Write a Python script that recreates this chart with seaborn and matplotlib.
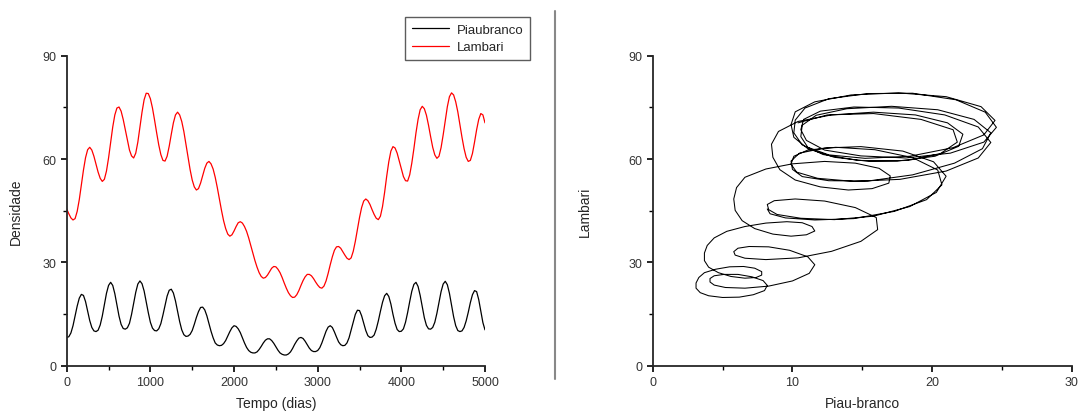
import numpy as np
import pandas as pd
import matplotlib
matplotlib.use("Agg")
import matplotlib.pyplot as plt
from matplotlib.lines import Line2D
from matplotlib.ticker import MultipleLocator
import seaborn as sns

tempo = np.arange(0, 5001, 25)

piaubranco = [
    8.2, 8.4, 9.5, 11.6, 14.4, 17.3, 19.6, 20.7, 20.4, 18.6, 15.9, 13.1, 11.1, 10.1, 9.9, 10.3,
    11.8, 14.4, 17.7, 21.0, 23.3, 24.2, 23.3, 20.9, 17.6, 14.4, 12.0, 10.8, 10.6, 11.0, 12.3, 14.9,
    18.1, 21.3, 23.7, 24.6, 23.8, 21.7, 18.6, 15.4, 12.6, 10.9, 10.2, 10.1, 10.7, 12.2, 14.7, 17.5,
    20.2, 21.9, 22.2, 21.1, 18.8, 15.8, 12.8, 10.4, 9.0, 8.5, 8.6, 9.1, 10.2, 12.0, 14.0, 15.7,
    16.9, 17.0, 16.2, 14.5, 12.3, 10.0, 8.1, 6.6, 6.0, 5.8, 5.9, 6.4, 7.3, 8.6, 9.9, 11.0,
    11.6, 11.4, 10.7, 9.6, 8.1, 6.6, 5.3, 4.4, 3.9, 3.7, 3.7, 4.0, 4.7, 5.6, 6.6, 7.4,
    7.8, 7.8, 7.3, 6.5, 5.5, 4.5, 3.7, 3.3, 3.1, 3.1, 3.4, 4.0, 5.0, 6.2, 7.2, 8.0,
    8.2, 7.9, 7.1, 6.1, 5.1, 4.4, 4.1, 4.1, 4.4, 5.2, 6.6, 8.3, 10.0, 11.2, 11.6, 11.1,
    9.8, 8.3, 6.9, 6.1, 5.8, 5.9, 6.6, 8.1, 10.4, 12.8, 14.9, 16.1, 16.0, 14.5, 12.3, 10.2,
    8.7, 8.2, 8.3, 8.9, 10.6, 13.0, 15.8, 18.4, 20.3, 21.0, 20.1, 17.9, 14.9, 12.3, 10.5, 9.9,
    10.0, 10.7, 12.6, 15.4, 18.6, 21.6, 23.6, 24.2, 23.0, 20.4, 17.1, 13.9, 11.7, 10.7, 10.6, 11.1,
    12.6, 15.2, 18.4, 21.5, 23.7, 24.5, 23.5, 21.0, 17.6, 14.2, 11.6, 10.2, 9.9, 10.1, 11.1, 13.0,
    15.5, 18.3, 20.6, 21.8, 21.5, 19.2, 15.8, 12.5, 10.4,
]

lambari = [
    45.5, 44.1, 42.9, 42.3, 42.7, 44.8, 48.2, 52.5, 56.8, 60.4, 62.7, 63.4, 62.6, 60.8, 58.5, 56.2,
    54.4, 53.5, 54.1, 56.5, 60.3, 64.8, 69.3, 72.8, 74.8, 75.1, 73.9, 71.5, 68.5, 65.4, 62.6, 60.9,
    60.3, 61.7, 64.9, 69.2, 73.6, 77.2, 79.1, 79.0, 77.5, 74.8, 71.3, 67.6, 64.1, 61.3, 59.6, 59.4,
    60.8, 63.7, 67.2, 70.5, 72.8, 73.6, 72.8, 70.9, 68.0, 64.3, 60.5, 56.9, 53.9, 51.9, 51.0, 51.4,
    53.0, 55.1, 57.3, 58.8, 59.3, 58.6, 57.1, 54.7, 51.7, 48.4, 45.1, 42.1, 39.8, 38.2, 37.6, 38.0,
    39.1, 40.4, 41.5, 41.8, 41.4, 40.4, 39.0, 37.1, 34.9, 32.7, 30.5, 28.6, 27.0, 25.9, 25.4, 25.6,
    26.3, 27.3, 28.3, 28.8, 28.7, 28.0, 27.0, 25.6, 24.0, 22.5, 21.2, 20.3, 19.8, 19.9, 20.6, 21.8,
    23.3, 24.7, 25.8, 26.5, 26.5, 26.1, 25.3, 24.3, 23.4, 22.7, 22.5, 23.1, 24.6, 26.8, 29.3, 31.6,
    33.5, 34.5, 34.6, 34.1, 33.1, 32.1, 31.2, 30.8, 31.3, 33.2, 36.1, 39.5, 43.0, 45.9, 47.8, 48.4,
    47.9, 46.8, 45.3, 43.9, 42.8, 42.4, 43.4, 46.2, 50.3, 55.0, 59.2, 62.3, 63.6, 63.2, 61.7, 59.4,
    57.0, 54.9, 53.7, 53.6, 55.4, 58.8, 63.0, 67.6, 71.5, 74.3, 75.3, 74.6, 72.7, 69.8, 66.5, 63.4,
    61.2, 60.2, 60.8, 63.3, 67.0, 71.2, 75.2, 78.1, 79.2, 78.6, 76.6, 73.7, 70.0, 66.3, 63.0, 60.5,
    59.3, 59.6, 61.6, 64.9, 68.5, 71.5, 73.2, 72.8, 70.5,
]

series_names = ["Piaubranco", "Lambari"]
series_colors = ["#000000", "#ff0000"]
left_xticks = [0, 1000, 2000, 3000, 4000, 5000]
yticks = [0, 30, 60, 90]
right_xticks = [0, 10, 20, 30]

assert len(piaubranco) == len(tempo) == len(lambari)

# ---- styling ----
sns.set_style("ticks")
plt.rcParams["font.family"] = ["Liberation Sans", "DejaVu Sans"]
plt.rcParams["axes.linewidth"] = 1.3
plt.rcParams["xtick.major.width"] = 1.2
plt.rcParams["ytick.major.width"] = 1.2
plt.rcParams["xtick.minor.width"] = 1.0
plt.rcParams["ytick.minor.width"] = 1.0
plt.rcParams["lines.solid_joinstyle"] = "round"

df = pd.DataFrame({"Tempo": tempo, "Piaubranco": piaubranco, "Lambari": lambari})
long = df.melt(id_vars="Tempo", value_vars=series_names, var_name="serie", value_name="dens")

fig = plt.figure(figsize=(10.78, 4.14), dpi=100)
axL = fig.add_axes([0.0619, 0.1143, 0.388, 0.7488])
axR = fig.add_axes([0.6055, 0.1143, 0.3888, 0.7488])

sns.lineplot(data=long, x="Tempo", y="dens", hue="serie", hue_order=series_names,
             palette=series_colors, linewidth=0.9, ax=axL, sort=False, estimator=None)

sns.lineplot(x=piaubranco, y=lambari, sort=False, estimator=None, color="black",
             linewidth=0.75, ax=axR)

def style(ax, xticks, xminor, xlabel, ylabel, ypad):
    for s in ["top", "right"]:
        ax.spines[s].set_visible(False)
    ax.set_xticks(xticks)
    ax.set_yticks(yticks)
    ax.xaxis.set_minor_locator(MultipleLocator(xminor))
    ax.yaxis.set_minor_locator(MultipleLocator(15))
    ax.tick_params(which="major", direction="out", length=4.5, labelsize=9,
                   colors="black", labelcolor="#333333", pad=3)
    ax.tick_params(which="minor", direction="out", length=3, colors="black")
    ax.set_xlabel(xlabel, fontsize=10, labelpad=6)
    ax.set_ylabel(ylabel, fontsize=10, labelpad=ypad)
    ax.set_ylim(0, 90)

axL.set_xlim(0, 5000)
style(axL, left_xticks, 500, "Tempo (dias)", "Densidade", 14)
axR.set_xlim(0, 30)
style(axR, right_xticks, 5, "Piau-branco", "Lambari", 26)

leg = axL.legend(handles=axL.get_lines()[:2], labels=series_names, loc="upper right",
                 bbox_to_anchor=(530 / 1078, 1 - 18 / 414), bbox_transform=fig.transFigure,
                 frameon=True, fancybox=False, fontsize=9.5, handlelength=2.8,
                 borderpad=0.5, labelspacing=0.4, handletextpad=0.6, borderaxespad=0)
leg.get_frame().set_edgecolor("#333333")
leg.get_frame().set_linewidth(1.0)
for h, c in zip(leg.legend_handles, series_colors):
    h.set_color(c)
    h.set_linewidth(0.9)

# separator line between the two panels
fig.add_artist(Line2D([554.7 / 1078, 554.7 / 1078], [1 - 12 / 414, 1 - 380 / 414],
                      transform=fig.transFigure, color="#888888", linewidth=1.5))

fig.savefig("out.png", dpi=100)
